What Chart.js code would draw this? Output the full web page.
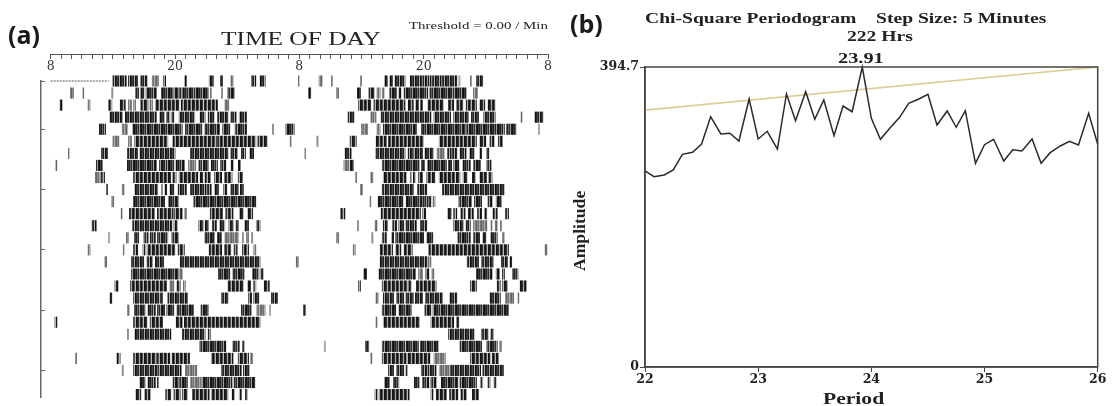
<!DOCTYPE html>
<html lang="en">
<head>
<meta charset="UTF-8">
<title>Actogram and periodogram</title>
<script src="https://cdn.jsdelivr.net/npm/chart.js"></script>
<style>
    html, body { margin: 0; background: #fff; width: 1113px; height: 406px; overflow: hidden; }
    #page { position: relative; width: 1113px; height: 406px; filter: blur(0.55px); }
    canvas { position: absolute; top: 0; }
    #actogram { left: 0; }
    #periodogram { left: 560px; }
    .txt { position: absolute; white-space: pre; color: #222; font-family: "Liberation Serif", serif; transform-origin: left top; }
    .panel { font-family: "Open Sans", sans-serif; font-weight: 700; font-size: 25px; color: #1a1a1a; }
    .b { font-weight: bold; }
</style>
</head>
<body>
<div id="page">
    <canvas id="actogram" width="560" height="406"></canvas>
    <canvas id="periodogram" width="553" height="406"></canvas>
    <div class="txt panel" style="left:8px;top:17px">(a)</div>
    <div class="txt panel" style="left:570px;top:6px">(b)</div>
    <div class="txt" style="left:221px;top:29px;font-size:18px;transform:scaleX(1.41)">TIME OF DAY</div>
    <div class="txt" style="left:409px;top:20px;font-size:10.5px;transform:scaleX(1.42)">Threshold = 0.00 / Min</div>
    <div class="txt b" style="left:645px;top:11px;font-size:14px;transform:scaleX(1.4)">Chi-Square Periodogram    Step Size: 5 Minutes</div>
    <div class="txt b" style="left:847px;top:29px;font-size:14px;transform:scaleX(1.4)">222 Hrs</div>
    <div class="txt b" style="left:838px;top:51px;font-size:14px;transform:scaleX(1.45)">23.91</div>
    <div class="txt b" style="left:571px;top:271px;font-size:16px;transform:rotate(-90deg) scaleX(1.1)">Amplitude</div>
    <div class="txt b" style="left:823px;top:390px;font-size:16px;transform:scaleX(1.35)">Period</div>
</div>

<script>
    // actogram: hours after 08:00, one list per day
    const darkRuns = [
        [[6.0,7.3],[7.5,8.4],[8.7,9.3],[10.9,11.1],[12.9,13.1],[15.3,15.7],[16.4,16.6],[19.4,19.8],[20.2,20.7]],
        [[8.2,8.5],[8.7,9.0],[9.2,10.2],[10.7,11.8],[11.9,12.3],[12.4,12.7],[12.8,13.7],[13.8,15.2],[17.1,17.7]],
        [[0.9,1.1],[5.6,5.9],[6.7,7.2],[8.7,9.4],[9.6,9.8],[10.1,12.4],[12.6,14.7],[14.8,16.1]],
        [[5.7,6.9],[7.2,10.2],[10.5,11.0],[11.2,11.5],[11.7,11.9],[12.4,13.9],[14.4,14.9],[15.2,15.8],[16.1,17.1],[17.4,17.9],[18.2,18.9]],
        [[4.7,5.3],[7.9,12.7],[13.0,14.6],[14.9,16.3],[16.6,17.3],[17.8,18.9],[22.7,23.5]],
        [[8.1,11.3],[11.8,16.0],[16.1,19.8],[20.0,20.9]],
        [[4.9,5.5],[7.4,8.4],[8.6,12.0],[13.5,17.1],[17.4,18.0],[18.4,18.8],[19.2,19.6]],
        [[4.4,5.0],[7.4,10.2],[10.5,11.0],[11.1,11.9],[12.1,12.9],[14.3,14.6],[14.7,15.2],[15.5,16.1],[16.4,16.9],[17.4,17.6],[18.1,18.3]],
        [[4.9,5.2],[8.0,11.6],[11.8,12.1],[12.4,14.2],[14.4,14.7],[14.9,15.4],[15.8,16.5],[16.8,17.5],[18.1,18.5]],
        [[5.4,5.5],[8.1,10.3],[11.0,11.2],[11.5,11.9],[12.3,13.1],[13.5,15.0],[15.1,15.5],[15.8,16.2],[16.7,17.0],[17.4,18.1],[18.3,18.6]],
        [[8.0,11.0],[11.4,12.3],[13.8,19.8]],
        [[7.6,10.0],[10.3,11.8],[11.9,12.4],[12.5,12.7],[15.4,16.6],[16.9,17.6],[18.2,18.6],[19.0,19.5]],
        [[4.0,4.4],[7.9,11.7],[11.9,12.2],[14.3,14.7],[14.9,15.2],[15.6,16.0],[16.3,16.8],[17.2,17.6],[17.9,18.1],[18.7,19.1],[19.9,20.2]],
        [[8.1,8.5],[9.0,9.4],[9.6,10.1],[10.3,11.3],[11.7,12.3],[14.9,15.8],[16.1,16.5]],
        [[8.0,8.4],[8.9,9.1],[9.3,12.0],[12.3,12.9],[15.3,16.5],[16.8,17.4],[17.7,18.0],[18.5,19.1]],
        [[7.8,9.0],[9.3,9.8],[10.1,10.9],[12.5,20.2]],
        [[7.8,12.3],[16.2,17.3],[17.6,18.7],[19.5,20.1],[20.3,20.5]],
        [[6.2,6.5],[7.7,11.2],[12.2,12.5],[17.1,18.6],[19.0,19.3],[19.6,19.8],[20.6,21.1]],
        [[5.7,5.9],[8.0,10.5],[10.6,10.8],[11.3,13.2],[16.5,17.1],[19.1,19.4],[19.6,20.1],[21.3,21.9]],
        [[8.1,9.1],[9.4,10.1],[10.3,11.0],[11.2,11.9],[12.2,13.8],[14.5,15.2],[18.4,19.4]],
        [[0.4,0.6],[8.0,9.3],[9.6,10.8],[12.1,12.7],[12.9,20.2]],
        [[8.1,11.6],[12.7,14.9],[15.2,15.4]],
        [[14.4,16.9],[17.6,18.2],[18.5,18.7]],
        [[6.4,6.7],[8.0,10.2],[10.3,11.5],[11.7,13.4],[15.5,17.6],[18.1,19.1]],
        [[8.0,10.3],[10.4,12.6],[16.5,18.4],[18.6,19.2]],
        [[8.6,9.1],[9.4,10.1],[10.3,10.4],[11.8,12.3],[12.4,13.2],[14.6,17.5],[17.7,19.7]],
        [[8.2,8.7],[9.1,9.6],[11.1,11.6],[11.9,12.5],[12.7,13.2],[13.7,15.3],[15.5,17.1],[17.5,17.7],[18.2,18.4],[18.8,19.0]],
        [[7.3,7.5],[7.7,10.6],[12.7,12.9],[13.2,14.2],[14.5,15.3],[15.6,16.1],[16.7,17.3]]
    ];
    const paleRuns = [
        [[9.8,10.4],[17.4,17.6],[23.9,24.0]],
        [[1.9,2.2],[3.1,3.2],[5.9,6.0],[15.4,15.5],[16.5,16.6]],
        [[3.6,3.8],[7.5,7.8],[8.0,8.2],[16.8,17.2]],
        [],
        [[6.9,7.4],[21.4,21.5]],
        [[6.0,6.6],[7.5,7.8],[23.1,23.2]],
        [[1.7,1.8]],
        [[0.5,0.6],[13.3,14.0]],
        [[4.3,4.8]],
        [[6.9,7.1],[10.7,10.8]],
        [[5.9,6.1]],
        [[6.8,6.9],[12.9,13.1]],
        [],
        [[5.6,5.7],[7.3,7.5],[16.8,18.1],[18.5,18.6],[18.9,19.1],[19.4,19.5]],
        [[3.6,3.8],[7.0,7.1],[19.6,19.8]],
        [[5.2,5.4],[23.7,23.9]],
        [[12.4,12.7]],
        [[11.5,11.9],[12.8,13.0]],
        [],
        [[7.4,7.6],[19.9,20.7],[21.1,21.2]],
        [],
        [[7.4,7.5]],
        [],
        [[2.4,2.5],[19.3,19.5]],
        [[6.9,7.0],[13.0,14.1]],
        [[13.5,14.5]],
        [],
        []
    ];
    const missingRun = [0, 5.6];    // no recording at the start of day 1
    const timeLabels = ['8', '20', '8', '20', '8'];
    const rowTicks = [1, 5, 10, 15, 20, 25];

    // periodogram
    const periods = [22, 22.08, 22.17, 22.25, 22.33, 22.42, 22.5, 22.58, 22.67, 22.75, 22.83, 22.92,
        23, 23.08, 23.17, 23.25, 23.33, 23.42, 23.5, 23.58, 23.67, 23.75, 23.83, 23.92,
        24, 24.08, 24.17, 24.25, 24.33, 24.42, 24.5, 24.58, 24.67, 24.75, 24.83, 24.92,
        25, 25.08, 25.17, 25.25, 25.33, 25.42, 25.5, 25.58, 25.67, 25.75, 25.83, 25.92, 26];
    const amplitudes = [257.9, 250.4, 252.6, 259.2, 279.8, 282.5, 293.4, 329.3, 306.6, 307.5, 297.3, 352.6,
        300, 310.1, 286.8, 359.2, 324.1, 362.2, 325.9, 351.3, 304.3, 343.4, 335.9, 394.7,
        327.2, 299.6, 315.4, 328.5, 346.9, 352.6, 358.8, 318.4, 336.8, 315.4, 337.2, 268,
        292.5, 299.6, 271, 285.9, 284.2, 300, 268, 282, 290.8, 297, 292.1, 333.8, 293];
    const thresholdPeriods = [22, 26];
    const thresholdValues = [338, 394.7];
    const amplitudeTicks = [0, 394.7];

    // double plot: each row shows its own day, then the next day
    function toBars(runs) {
        const bars = [];
        for (let r = 0; r < runs.length - 1; r++) {
            runs[r].forEach(run => bars.push({ x: run, y: r + 1 }));
            runs[r + 1].forEach(run => bars.push({ x: [run[0] + 24, run[1] + 24], y: r + 1 }));
        }
        return bars;
    }

    function stripe(colors) {
        const c = document.createElement('canvas');
        c.width = colors.length;
        c.height = 1;
        const g = c.getContext('2d');
        colors.forEach((col, i) => { g.fillStyle = col; g.fillRect(i, 0, 1, 1); });
        return g.createPattern(c, 'repeat');
    }

    const stripes = [
        stripe(['#151515', '#1c1c1c', '#333333', '#a8a8a8', '#2a2a2a', '#111111', '#555555', '#b4b4b4']),
        stripe(['#111111', '#2a2a2a', '#444444', '#222222', '#b0b0b0']),
        stripe(['#1c1c1c', '#111111', '#3a3a3a', '#222222', '#666666', '#2a2a2a', '#a0a0a0'])
    ];
    const paleStripe = stripe(['#777777', '#666666', '#8a8a8a', '#707070', '#b0b0b0']);

    new Chart(document.getElementById('actogram'), {
        type: 'bar',
        data: {
            datasets: [
                {
                    data: toBars(darkRuns),
                    backgroundColor: ctx => stripes[ctx.parsed ? ctx.parsed.y % 3 : 0],
                    barThickness: 10.5,
                    grouped: false,
                    clip: false
                },
                {
                    data: toBars(paleRuns),
                    backgroundColor: paleStripe,
                    barThickness: 10.5,
                    grouped: false,
                    clip: false
                },
                {
                    type: 'line',
                    data: missingRun.map(v => ({ x: v, y: 1 })),
                    borderColor: '#555',
                    borderWidth: 1,
                    borderDash: [2, 1],
                    pointRadius: 0,
                    clip: false
                }
            ]
        },
        options: {
            indexAxis: 'y',
            responsive: false,
            animation: false,
            layout: { padding: { left: 50.7, right: 12, top: 81, bottom: 9 } },
            plugins: { legend: { display: false }, tooltip: { enabled: false } },
            scales: {
                x: {
                    type: 'linear',
                    position: { y: -1.2 },
                    min: 0,
                    max: 48,
                    border: { color: '#555', width: 1 },
                    grid: { drawOnChartArea: false, color: '#555', tickLength: 4 },
                    ticks: {
                        stepSize: 1,
                        autoSkip: false,
                        maxRotation: 0,
                        padding: 1,
                        color: '#333',
                        font: { family: 'DejaVu Serif', size: 12.5 },
                        callback: v => (v % 12 === 0 ? timeLabels[v / 12] : '')
                    }
                },
                y: {
                    type: 'linear',
                    position: { x: -0.94 },
                    reverse: true,
                    offset: false,
                    min: 1,
                    max: 27.2,
                    afterBuildTicks: axis => { axis.ticks = rowTicks.map(v => ({ value: v })); },
                    border: { color: '#666', width: 1.5 },
                    grid: { offset: false, drawOnChartArea: false, color: '#666', tickLength: -5 },
                    ticks: { display: false }
                }
            }
        }
    });

    const chartFrame = {
        id: 'chartFrame',
        afterDatasetsDraw(chart) {
            const { ctx, chartArea: a } = chart;
            ctx.save();
            ctx.strokeStyle = '#444';
            ctx.lineWidth = 1.5;
            ctx.strokeRect(a.left, a.top, a.right - a.left, a.bottom - a.top);
            ctx.restore();
        }
    };

    const labelFont = { family: 'DejaVu Serif', size: 12.5, weight: 'bold' };

    new Chart(document.getElementById('periodogram'), {
        type: 'line',
        data: {
            datasets: [
                {
                    data: periods.map((p, i) => ({ x: p, y: amplitudes[i] })),
                    borderColor: '#2a2a2a',
                    borderWidth: 1.5,
                    pointRadius: 0,
                    tension: 0,
                    clip: false
                },
                {
                    data: thresholdPeriods.map((p, i) => ({ x: p, y: thresholdValues[i] })),
                    borderColor: '#dccd94',
                    borderWidth: 1.6,
                    pointRadius: 0,
                    tension: 0,
                    clip: false
                }
            ]
        },
        options: {
            responsive: false,
            animation: false,
            layout: { padding: { left: 0, right: 15.3, top: 67, bottom: 0 } },
            plugins: { legend: { display: false }, tooltip: { enabled: false } },
            scales: {
                x: {
                    type: 'linear',
                    min: 22,
                    max: 26,
                    afterFit: axis => { axis.height = 39; },
                    border: { color: '#444', width: 1.5 },
                    grid: { drawOnChartArea: false, color: '#444', tickLength: 5 },
                    ticks: { stepSize: 1, padding: 0, color: '#222', font: labelFont }
                },
                y: {
                    type: 'linear',
                    min: 0,
                    max: 394.7,
                    afterFit: axis => { axis.width = 85; },
                    afterBuildTicks: axis => { axis.ticks = amplitudeTicks.map(v => ({ value: v })); },
                    border: { color: '#444', width: 1.5 },
                    grid: { drawOnChartArea: false, color: '#444', tickLength: 5 },
                    ticks: { padding: 1, color: '#222', font: labelFont, callback: v => String(v) }
                }
            }
        },
        plugins: [chartFrame]
    });
</script>
</body>
</html>
